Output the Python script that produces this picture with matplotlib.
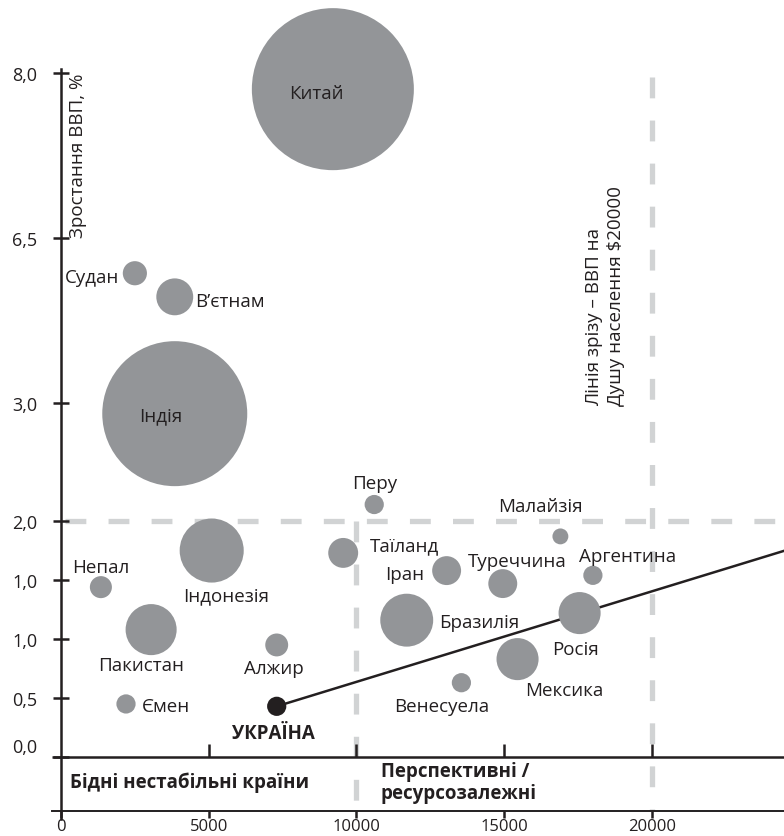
import matplotlib
matplotlib.use("Agg")
import matplotlib.pyplot as plt
import matplotlib.transforms as mtransforms

plt.rcParams['font.family'] = ['Open Sans', 'DejaVu Sans']
plt.rcParams['lines.scale_dashes'] = False

# ---------------- data ----------------
countries = ["Китай", "Судан", "В’єтнам", "Індія", "Індонезія", "Непал", "Пакистан",
             "Алжир", "Ємен", "УКРАЇНА", "Таїланд", "Перу", "Іран", "Туреччина",
             "Бразилія", "Малайзія", "Аргентина", "Росія", "Мексика", "Венесуела"]
gdp_per_capita = [9200, 2500, 3850, 3850, 5100, 1350, 3050,
                  7300, 2200, 7300, 9550, 10600, 13050, 14950,
                  11700, 16900, 18000, 17550, 15450, 13550]
# vertical position on the chart's (non-uniform) growth scale
growth_pos = [5.66, 4.10, 3.90, 2.91, 1.75, 1.44, 1.08,
              0.95, 0.45, 0.43, 1.73, 2.14, 1.58, 1.47,
              1.16, 1.87, 1.54, 1.22, 0.83, 0.63]
bubble_size = [1350, 30, 70, 1081, 211, 25, 134,
               27, 19, 19, 46, 19, 43, 43,
               144, 13, 19, 91, 91, 19]

x_ticks = [0, 5000, 10000, 15000, 20000]
x_tick_labels = ["0", "5000", "10000", "15000", "20000"]
y_ticks = [0, 0.5, 1.0, 1.5, 2.0, 3.0, 4.4, 5.8]
y_tick_labels = ["0,0", "0,5", "1,0", "1,0", "2,0", "3,0", "6,5", "8,0"]

threshold_growth = 2.0
threshold_gdp_low = 10000
threshold_gdp_high = 20000
trend_x = [7300, 24500]
trend_y = [0.43, 1.75]

# ---------------- style ----------------
DARK = '#231f20'
BUB = '#939598'
DASH = '#d1d3d4'
FS = 13.5
TFS = 13

fig = plt.figure(figsize=(7.84, 8.37), dpi=100)
ax = fig.add_axes([0, 0, 1, 1])
ax.set_xlim(-2064, 24467)
ax.set_ylim(-0.669, 6.424)
ax.patch.set_alpha(0)

for s in ['top', 'right']:
    ax.spines[s].set_visible(False)
ax.spines['left'].set_position(('data', 0))
ax.spines['left'].set_bounds(-0.525, 5.83)
ax.spines['left'].set_linewidth(1.8)
ax.spines['left'].set_color(DARK)
ax.spines['bottom'].set_position(('data', -0.458))
ax.spines['bottom'].set_bounds(-305, 24467)
ax.spines['bottom'].set_linewidth(1.4)
ax.spines['bottom'].set_color(DARK)
ax.spines['left'].set_zorder(5)
ax.spines['bottom'].set_zorder(5)

ax.set_xticks(x_ticks, x_tick_labels)
ax.set_yticks(y_ticks, y_tick_labels)
ax.tick_params(axis='x', direction='out', length=5, width=1.8, color=DARK,
               labelsize=12, labelcolor=DARK, pad=0)
ax.tick_params(axis='y', direction='inout', length=12, width=1.8, color=DARK,
               labelsize=TFS, labelcolor=DARK, pad=11)
for lab in ax.get_yticklabels():
    if lab.get_text() == "0,0":
        lab.set_transform(lab.get_transform() +
                          mtransforms.ScaledTranslation(0, 9 / 72, fig.dpi_scale_trans))

# upper horizontal axis line with upward ticks
ax.plot([-305, 24467], [0, 0], color=DARK, lw=1.8, zorder=5, solid_capstyle='butt')
ax.vlines(x_ticks[1:], 0, 0.11, color=DARK, lw=1.8, zorder=5)

# dashed threshold lines
ax.plot([150, 24467], [threshold_growth, threshold_growth], color=DASH, lw=3.8,
        dashes=(15, 16), zorder=1)
ax.plot([threshold_gdp_low, threshold_gdp_low], [threshold_growth, -0.458], color=DASH,
        lw=3.8, dashes=(15, 16), zorder=1)
ax.plot([threshold_gdp_high, threshold_gdp_high], [5.76, -0.458], color=DASH,
        lw=3.8, dashes=(15, 16), zorder=1)

# trend line
ax.plot(trend_x, trend_y, color=DARK, lw=1.8, zorder=2, solid_capstyle='butt')

# bubbles
colors = [DARK if c == "УКРАЇНА" else BUB for c in countries]
ax.scatter(gdp_per_capita, growth_pos, s=[v * 10.08 for v in bubble_size],
           c=colors, edgecolors='none', zorder=3)

# label placement (pixel offsets from bubble centre; y down), alignment
place = {
    "Китай": (-16, 2, 'center'), "Судан": (-16, 2, 'right'), "В’єтнам": (20, 2, 'left'),
    "Індія": (-14, 0, 'center'), "Індонезія": (14, 43, 'center'), "Непал": (0, -22, 'center'),
    "Пакистан": (-10, 33, 'center'), "Алжир": (-3, 21, 'center'), "Ємен": (16, 0, 'left'),
    "УКРАЇНА": (-3, 24, 'center'), "Таїланд": (27, -10, 'left'), "Перу": (0, -24, 'center'),
    "Іран": (-22, 1.5, 'right'), "Туреччина": (14, -25, 'center'),
    "Бразилія": (32, 0, 'left'), "Малайзія": (-20, -32, 'center'),
    "Аргентина": (35, -21, 'center'), "Росія": (-4, 34, 'center'),
    "Мексика": (47, 29, 'center'), "Венесуела": (-20, 21.5, 'center'),
}
for name, gx, gy in zip(countries, gdp_per_capita, growth_pos):
    dx, dy, ha = place[name]
    ax.annotate(name, (gx, gy), xytext=(dx * 0.72, -dy * 0.72), textcoords='offset points',
                ha=ha, va='center_baseline', fontsize=FS, color=DARK, zorder=6,
                fontweight='bold' if name == "УКРАЇНА" else 'normal')

# axis title and annotations
ax.text(575, 4.407, "Зростання ВВП, %", rotation=90, ha='center', va='bottom',
        fontsize=FS, color=DARK)
ax.text(18410, 2.98, "Лінія зрізу – ВВП на\nДушу населення $20000", rotation=90,
        ha='center', va='bottom', multialignment='left', fontsize=FS, color=DARK,
        linespacing=1.25)
ax.text(305, -0.212, "Бідні нестабільні країни", ha='left', va='center',
        fontsize=FS, fontweight='bold', color=DARK)
ax.text(10820, -0.21, "Перспективні /\nресурсозалежні", ha='left', va='center',
        fontsize=FS, fontweight='bold', color=DARK, linespacing=1.1)

fig.savefig("out.png", dpi=100)
